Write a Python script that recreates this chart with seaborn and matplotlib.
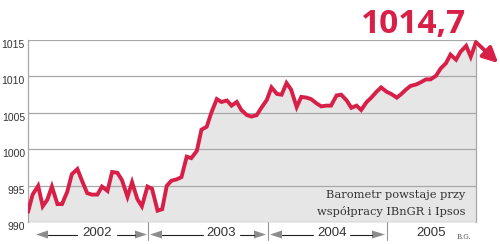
import numpy as np
import pandas as pd
import matplotlib
matplotlib.use("Agg")
import matplotlib.pyplot as plt
from matplotlib.patches import Polygon
import seaborn as sns

# ---------------- data ----------------
dates = pd.date_range("2002-01-01", periods=91, freq="SMS")
values = [
    991.4, 993.8, 995.0, 992.2, 993.1, 994.9, 992.5, 992.5, 994.2, 996.6,
    997.3, 995.7, 994.0, 993.8, 993.8, 994.9, 994.3, 996.9, 996.8, 995.8,
    993.5, 995.5, 993.2, 992.2, 994.9, 994.6, 991.6, 991.8, 995.0, 995.7,
    995.9, 996.2, 999.0, 998.8, 999.8, 1002.7, 1003.1, 1005.0, 1006.9, 1006.5,
    1006.7, 1006.0, 1006.5, 1005.4, 1004.7, 1004.5, 1004.7, 1005.7, 1006.8, 1008.5,
    1007.6, 1007.5, 1009.1, 1008.2, 1005.8, 1007.2, 1007.1, 1006.9, 1006.3, 1005.9,
    1006.0, 1006.0, 1007.4, 1007.5, 1006.7, 1005.7, 1006.0, 1005.4, 1006.5, 1007.1,
    1007.9, 1008.5, 1007.9, 1007.6, 1007.1, 1007.6, 1008.2, 1008.7, 1008.9, 1009.2,
    1009.6, 1009.6, 1010.1, 1011.1, 1011.8, 1013.0, 1012.3, 1013.4, 1014.2, 1012.7,
    1014.7,
]
y_ticks = [990, 995, 1000, 1005, 1010, 1015]
year_labels = ["2002", "2003", "2004", "2005"]
headline = "1014,7"
note_lines = ["Barometr powstaje przy", "współpracy IBnGR i Ipsos"]
credit = "B.G."

df = pd.DataFrame({"date": dates, "value": values})

RED = "#d81f47"
GRID = "#a8a8a8"
FILL = "#e6e6e6"

sns.set_style("white")
plt.rcParams["font.family"] = ["Liberation Sans", "DejaVu Sans"]

W, H = 500, 244
fig = plt.figure(figsize=(W / 100, H / 100), dpi=100)
L, R, T, B = 28, 476, 40, 222.3
ax = fig.add_axes([L / W, 1 - B / H, (R - L) / W, (B - T) / H])

ax.fill_between(df["date"], df["value"], 990, color=FILL, lw=0, zorder=1)
sns.lineplot(data=df, x="date", y="value", ax=ax, color=RED, lw=2.8,
             zorder=3, solid_joinstyle="miter")

ax.set_ylim(990, 1015)
ax.set_xlim(df["date"].iloc[0], df["date"].iloc[-1])
ax.set_yticks(y_ticks)
ax.set_yticklabels([str(t) for t in y_ticks])
ax.set_xticks([])
ax.set_xlabel("")
ax.set_ylabel("")
ax.grid(axis="y", color=GRID, lw=0.9)
ax.set_axisbelow(False)
ax.tick_params(axis="y", length=0, pad=2.2, labelsize=7.5, labelcolor="#333333")
for lbl in ax.get_yticklabels():
    lbl.set_verticalalignment("top")
for s in ["top", "bottom"]:
    ax.spines[s].set_visible(False)
for s in ["left", "right"]:
    ax.spines[s].set_color(GRID)
    ax.spines[s].set_linewidth(0.9)

# helper: figure pixel -> axes fraction
def px(x, y):
    return ((x - L) / (R - L), (B - y) / (B - T))

tr = ax.transAxes

# end arrow
last_x, last_y = df["date"].iloc[-1], df["value"].iloc[-1]
ax.annotate("", xy=(last_x, last_y), xytext=(16, -15), textcoords="offset points",
            arrowprops=dict(arrowstyle="<|-,head_length=0.9,head_width=0.45",
                            color=RED, lw=2.8, shrinkA=0, shrinkB=0),
            annotation_clip=False, zorder=4)

# headline
fig.text(413.5 / W, 1 - 33 / H, headline, ha="center", va="baseline",
         fontsize=24, fontweight="bold", color=RED, family=["Open Sans", "DejaVu Sans"])

# note
ax.text(*px(465, 198), note_lines[0], transform=tr, ha="right", va="baseline",
        fontsize=8.2, color="#333333", family=["DejaVu Serif"], zorder=5)
ax.text(*px(465, 215), note_lines[1], transform=tr, ha="right", va="baseline",
        fontsize=8.2, color="#333333", family=["DejaVu Serif"], zorder=5)
fig.text(464 / W, 1 - 239 / H, credit, ha="center", va="baseline",
         fontsize=5, color="#555555", family=["DejaVu Serif"])

# bottom year band
for sx in [148, 268, 387]:
    ax.plot(*zip(px(sx, B), px(sx, 240)), transform=tr, color="#999999",
            lw=0.8, clip_on=False)

AY = 234.5
HEAD = "#8c8c8c"
def head(tip, base):
    pts = [px(tip, AY), px(base, AY - 4), px(base, AY + 4)]
    ax.add_patch(Polygon(pts, closed=True, transform=tr, color=HEAD,
                         clip_on=False, lw=0))

def shaft(x0, x1):
    ax.plot(*zip(px(x0, AY), px(x1, AY)), transform=tr, color="#222222",
            lw=0.8, clip_on=False)

segments = [
    (36, 48, 77, 97, 117, 135, 147),
    (150, 162, 203, 221.5, 240, 254, 266),
    (270, 282, 313, 332, 350, 372, 385),
]
for lab, (t1, b1, e1, c, s2, b2, t2) in zip(year_labels[:3], segments):
    head(t1, b1)
    shaft(b1, e1)
    shaft(s2, b2)
    head(t2, b2)
    ax.text(*px(c, 233.5), lab, transform=tr, ha="center", va="center",
            fontsize=9.5, color="#333333")
ax.text(*px(431, 233.5), year_labels[3], transform=tr, ha="center", va="center",
        fontsize=9.5, color="#333333")

fig.savefig("out.png", dpi=100)
